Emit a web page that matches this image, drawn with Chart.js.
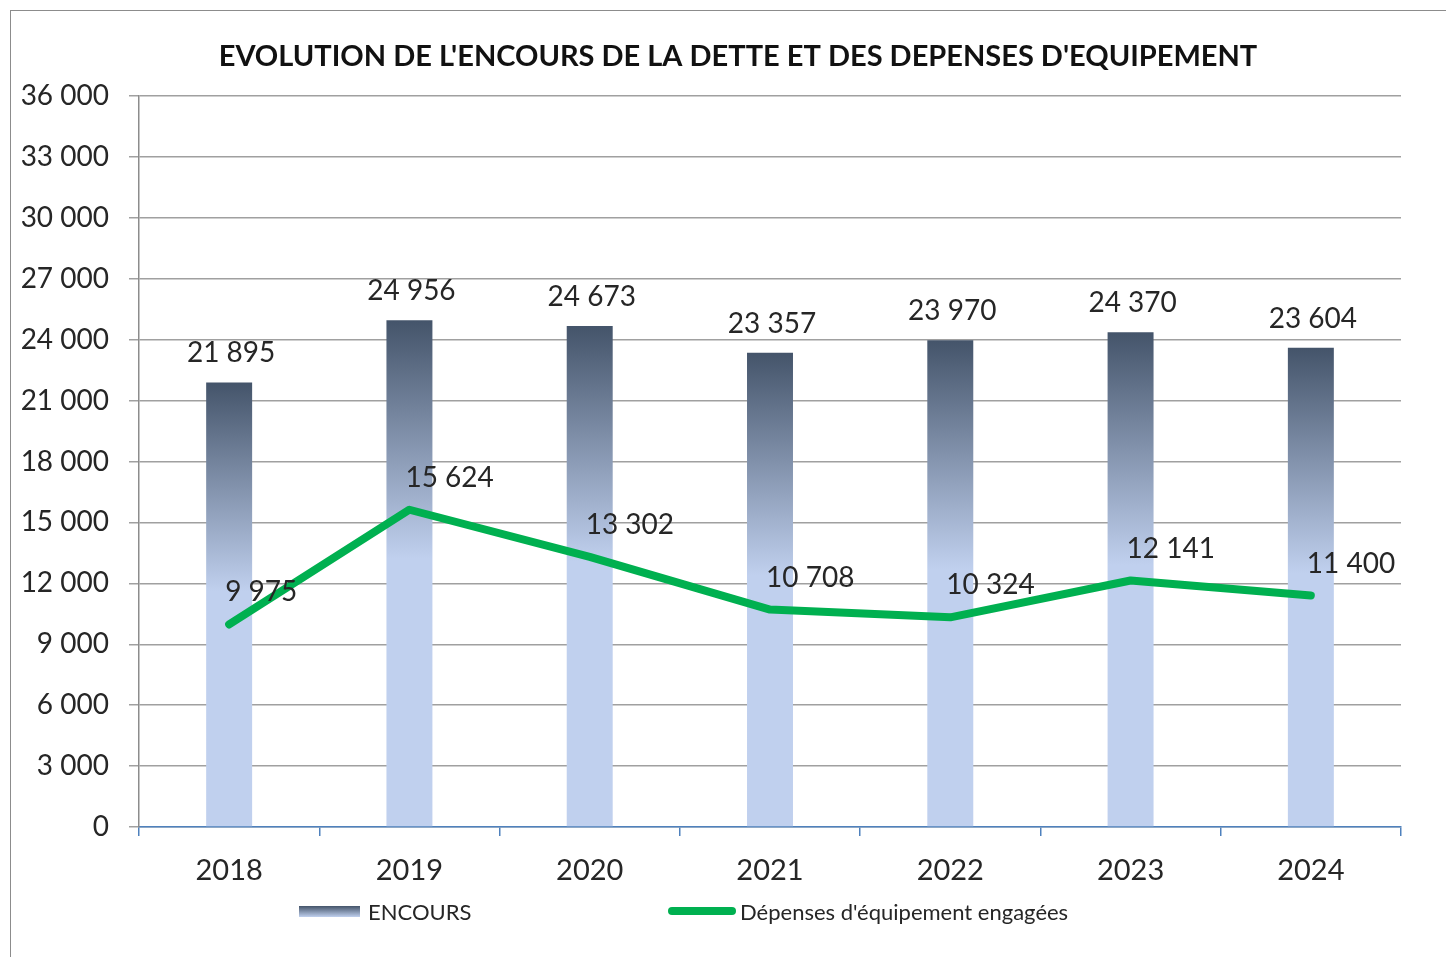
<!DOCTYPE html>
<html>
<head>
<meta charset="utf-8">
<script src="https://cdn.jsdelivr.net/npm/chart.js@4/dist/chart.umd.min.js"></script>
<style>
  html, body { margin: 0; padding: 0; background: #fff; }
  #wrap { position: relative; width: 1446px; height: 957px; overflow: hidden; }
  #frame { position: absolute; left: 10px; top: 10px; right: -5px; bottom: -5px;
           border-left: 1.5px solid #8c8c8c; border-top: 1.5px solid #8c8c8c; }
  #legend { position: absolute; top: 898px; left: 0; font: 22px Lato, sans-serif; color: #262626; }
  .item { position: absolute; top: 0; height: 26px; display: flex; align-items: center; white-space: nowrap; }
  .swatch-bar { width: 61px; height: 11px; margin-right: 8px;
                background: linear-gradient(to bottom, #44546a, #c0d0ee); }
  .swatch-line { width: 68px; height: 8px; border-radius: 4px; margin-right: 4px; background: #00b050; }
</style>
</head>
<body>
<div id="wrap">
  <canvas id="chart" width="1446" height="957"></canvas>
  <div id="frame"></div>
  <div id="legend">
    <div class="item" style="left:299px"><span class="swatch-bar"></span>ENCOURS</div>
    <div class="item" style="left:668px"><span class="swatch-line"></span>Dépenses d'équipement engagées</div>
  </div>
</div>
<script>
const title = "EVOLUTION DE L'ENCOURS DE LA DETTE ET DES DEPENSES D'EQUIPEMENT";
const years = ["2018", "2019", "2020", "2021", "2022", "2023", "2024"];
const encours = [21895, 24956, 24673, 23357, 23970, 24370, 23604];
const depenses = [9975, 15624, 13302, 10708, 10324, 12141, 11400];
const yMin = 0;
const yMax = 36000;
const yStep = 3000;

const fmt = (v) => String(v).replace(/\B(?=(\d{3})+(?!\d))/g, " ");

// gradient per bar: dark on top, light from ~half way down
function barFill(c) {
  const chart = c.chart;
  if (!chart.chartArea || c.type !== "data") return "#c0d0ee";
  const y = chart.scales.y;
  const top = y.getPixelForValue(c.raw);
  const bottom = y.getPixelForValue(0);
  const g = chart.ctx.createLinearGradient(0, top, 0, bottom);
  g.addColorStop(0, "#44546a");
  g.addColorStop(0.47, "#c0d0ee");
  g.addColorStop(1, "#c0d0ee");
  return g;
}

const chartTitle = {
  id: "chartTitle",
  afterDraw(chart) {
    const ctx = chart.ctx;
    ctx.save();
    ctx.font = "bold 29px Lato";
    ctx.fillStyle = "#111";
    ctx.textAlign = "center";
    ctx.textBaseline = "middle";
    ctx.fillText(title, chart.width / 2 + 15, 57);
    ctx.restore();
  },
};

const valueLabels = {
  id: "valueLabels",
  afterDatasetsDraw(chart) {
    const ctx = chart.ctx;
    ctx.save();
    ctx.font = "28px Lato";
    ctx.fillStyle = "#262626";
    ctx.textBaseline = "middle";
    ctx.textAlign = "center";
    chart.getDatasetMeta(0).data.forEach((bar, i) => {
      ctx.fillText(fmt(encours[i]), bar.x + 2, bar.y - 29);
    });
    ctx.textAlign = "left";
    chart.getDatasetMeta(1).data.forEach((pt, i) => {
      ctx.fillText(fmt(depenses[i]), pt.x - 4, pt.y - 32);
    });
    ctx.restore();
  },
};

new Chart(document.getElementById("chart"), {
  type: "bar",
  data: {
    labels: years,
    datasets: [
      {
        type: "bar",
        label: "ENCOURS",
        data: encours,
        backgroundColor: barFill,
        categoryPercentage: 1,
        barPercentage: 0.255,
        order: 2,
      },
      {
        type: "line",
        label: "Dépenses d'équipement engagées",
        data: depenses,
        borderColor: "#00b050",
        borderWidth: 8,
        pointRadius: 0,
        tension: 0,
        borderCapStyle: "round",
        borderJoinStyle: "round",
        order: 1,
      },
    ],
  },
  options: {
    responsive: false,
    animation: false,
    layout: { padding: { top: 96, right: 45, bottom: 73, left: 0 } },
    plugins: {
      legend: { display: false },
      title: { display: false },
      tooltip: { enabled: false },
    },
    scales: {
      x: {
        offset: true,
        grid: { offset: true, drawOnChartArea: false, color: "#4f81bd", lineWidth: 1.5, tickLength: 9 },
        border: { color: "#4f81bd", width: 1.5 },
        ticks: { font: { family: "Lato", size: 29 }, color: "#262626", padding: 17 },
        afterFit(s) { s.height = 57; },
      },
      y: {
        min: yMin,
        max: yMax,
        ticks: { stepSize: yStep, font: { family: "Lato", size: 28 }, color: "#262626", padding: 20, callback: (v) => fmt(v) },
        grid: { color: "#a0a0a0", lineWidth: 1.5, tickLength: 10 },
        border: { color: "#8c8c8c", width: 1.5 },
        afterFit(s) { s.width = 139; },
      },
    },
  },
  plugins: [chartTitle, valueLabels],
});
</script>
</body>
</html>
